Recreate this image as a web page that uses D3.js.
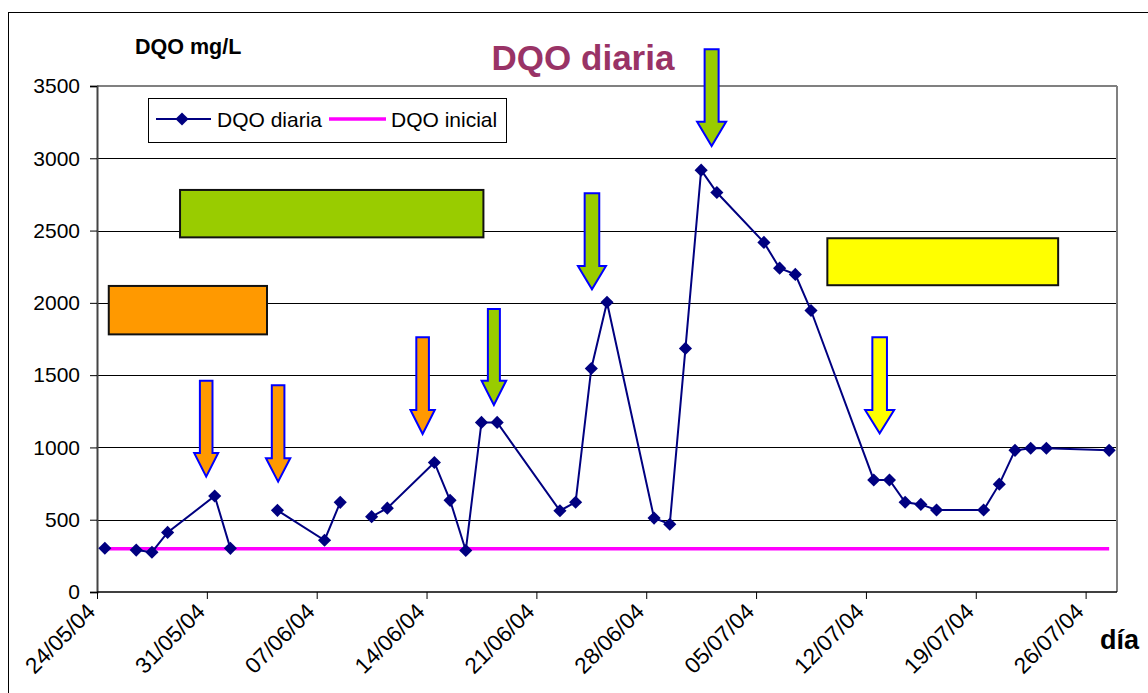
<!DOCTYPE html>
<html>
<head>
<meta charset="utf-8">
<script src="https://cdn.jsdelivr.net/npm/d3@7"></script>
<style>
  html, body { margin: 0; padding: 0; background: #fff; }
  svg { display: block; font-family: "Liberation Sans", Arial, sans-serif; }
</style>
</head>
<body>
<svg id="chart" width="1148" height="693"></svg>
<script>
// Daily COD sampling dates (dd/mm/yy); null = sample missing, line is broken there
const fechas = [
  "24/05/04", "25/05/04", "26/05/04", "27/05/04", "28/05/04", "31/05/04",
  "01/06/04", "02/06/04", "04/06/04", "07/06/04", "08/06/04", "09/06/04",
  "10/06/04", "11/06/04", "14/06/04", "15/06/04", "16/06/04", "17/06/04",
  "18/06/04", "22/06/04", "23/06/04", "24/06/04", "25/06/04", "28/06/04",
  "29/06/04", "30/06/04", "01/07/04", "02/07/04", "05/07/04", "06/07/04",
  "07/07/04", "08/07/04", "12/07/04", "13/07/04", "14/07/04", "15/07/04",
  "16/07/04", "19/07/04", "20/07/04", "21/07/04", "22/07/04", "23/07/04",
  "27/07/04"
];
const dqoDiaria = [
  303, null, 290, 275, 412, 664,
  302, null, 565, 358, 620, null,
  521, 580, 896, 634, 287, 1173,
  1173, 562, 621, 1546, 2004, 511,
  469, 1685, 2918, 2763, 2418, 2240,
  2197, 1947, 775, 775, 621, 606,
  567, 567, 746, 980, 994, 994,
  980
];
// Initial COD reference level (mg/L)
const dqoInicial = 300;

// Axis definitions
const yTicks = [0, 500, 1000, 1500, 2000, 2500, 3000, 3500];
const xStart = "24/05/04";
const xEnd = "28/07/04";
const xTickLabels = ["24/05/04", "31/05/04", "07/06/04", "14/06/04", "21/06/04",
                     "28/06/04", "05/07/04", "12/07/04", "19/07/04", "26/07/04"];

const parse = d3.utcParse("%d/%m/%y");
const data = fechas.map((f, i) => ({ date: parse(f), value: dqoDiaria[i] }));

const svg = d3.select("#chart");
const plot = { left: 97, right: 1117, top: 86, bottom: 592 };

const x = d3.scaleUtc()
  .domain([parse(xStart), parse(xEnd)])
  .range([plot.left, plot.right]);
const y = d3.scaleLinear()
  .domain([0, 3500])
  .range([plot.bottom, plot.top]);

// Points sit in the middle of their day
const xc = d => x(d3.utcHour.offset(d, 12));
// fractional day from start -> pixel
const xDay = n => x(d3.utcHour.offset(parse(xStart), n * 24));

// Outer chart frame
svg.append("rect")
  .attr("x", 8.5).attr("y", 12.5)
  .attr("width", 1300).attr("height", 900)
  .attr("fill", "#fff").attr("stroke", "#000").attr("stroke-width", 1);

// Horizontal gridlines
svg.append("g")
  .selectAll("line")
  .data(yTicks.filter(t => t > 0 && t < 3500))
  .join("line")
  .attr("x1", plot.left).attr("x2", plot.right)
  .attr("y1", d => Math.round(y(d)) + 0.5).attr("y2", d => Math.round(y(d)) + 0.5)
  .attr("stroke", "#000").attr("stroke-width", 1);

// Plot border (top / right in gray)
svg.append("line")
  .attr("x1", plot.left).attr("x2", plot.right)
  .attr("y1", plot.top).attr("y2", plot.top)
  .attr("stroke", "#808080").attr("stroke-width", 2);
svg.append("line")
  .attr("x1", plot.right).attr("x2", plot.right)
  .attr("y1", plot.top).attr("y2", plot.bottom)
  .attr("stroke", "#808080").attr("stroke-width", 2);

// Y axis
const yAxis = d3.axisLeft(y).tickValues(yTicks).tickSize(7).tickPadding(10)
  .tickFormat(d3.format("d"));
const gy = svg.append("g").attr("transform", `translate(${plot.left},0)`).call(yAxis);
gy.select(".domain").attr("stroke", "#444").attr("stroke-width", 2);
gy.selectAll(".tick line").attr("stroke", "#000");
gy.selectAll(".tick text")
  .attr("font-size", 21).attr("fill", "#000")
  .attr("font-family", "Liberation Sans, Arial, sans-serif");

// X axis
const xAxis = d3.axisBottom(x)
  .tickValues(xTickLabels.map(parse))
  .tickSize(7)
  .tickFormat(d3.utcFormat("%d/%m/%y"));
const gx = svg.append("g").attr("transform", `translate(0,${plot.bottom})`).call(xAxis);
gx.select(".domain").attr("stroke", "#000").attr("stroke-width", 1.5)
  .attr("d", `M${plot.left},0H${plot.right}`);
gx.selectAll(".tick line").attr("stroke", "#000");
gx.selectAll(".tick text")
  .attr("font-size", 22.5).attr("fill", "#000")
  .attr("font-family", "Liberation Sans, Arial, sans-serif")
  .attr("text-anchor", "end")
  .attr("x", 0).attr("y", 0).attr("dy", "0")
  .attr("transform", "translate(-1,21) rotate(-45)");

// Initial COD line
svg.append("line")
  .attr("x1", xc(data[0].date)).attr("x2", xc(data[data.length - 1].date))
  .attr("y1", y(dqoInicial)).attr("y2", y(dqoInicial))
  .attr("stroke", "#FF00FF").attr("stroke-width", 3.5);

// Daily COD line with gaps
const line = d3.line()
  .defined(d => d.value !== null)
  .x(d => xc(d.date))
  .y(d => y(d.value));
svg.append("path")
  .datum(data)
  .attr("d", line)
  .attr("fill", "none")
  .attr("stroke", "#000080")
  .attr("stroke-width", 2);

const diamond = d3.symbol().type(d3.symbolDiamond2).size(110);
svg.append("g")
  .selectAll("path")
  .data(data.filter(d => d.value !== null))
  .join("path")
  .attr("d", diamond)
  .attr("transform", d => `translate(${xc(d.date)},${y(d.value)})`)
  .attr("fill", "#000080");

// Treatment phase boxes (day range, value range)
const fases = [
  { d0: 0.76, d1: 10.84, v0: 1782, v1: 2117, color: "#FF9900" },
  { d0: 5.33, d1: 24.63, v0: 2453, v1: 2781, color: "#99CC00" },
  { d0: 46.58, d1: 61.25, v0: 2122, v1: 2447, color: "#FFFF00" }
];
svg.append("g")
  .selectAll("rect")
  .data(fases)
  .join("rect")
  .attr("x", d => xDay(d.d0)).attr("y", d => y(d.v1))
  .attr("width", d => xDay(d.d1) - xDay(d.d0))
  .attr("height", d => y(d.v0) - y(d.v1))
  .attr("fill", d => d.color)
  .attr("stroke", "#111").attr("stroke-width", 2);

// Down arrows marking events
const flechas = [
  { day: 6.99, top: 1462, head: 961, tip: 798, sw: 12.6, hw: 24, color: "#FF9900" },
  { day: 11.58, top: 1430, head: 925, tip: 763, sw: 12.6, hw: 24.3, color: "#FF9900" },
  { day: 20.75, top: 1762, head: 1259, tip: 1093, sw: 12.6, hw: 24.3, color: "#FF9900" },
  { day: 25.33, top: 1958, head: 1462, tip: 1294, sw: 12, hw: 24.6, color: "#99CC00" },
  { day: 31.57, top: 2758, head: 2255, tip: 2094, sw: 14.6, hw: 28, color: "#99CC00" },
  { day: 39.2, top: 3754, head: 3253, tip: 3085, sw: 14, hw: 29, color: "#99CC00" },
  { day: 49.89, top: 1762, head: 1259, tip: 1098, sw: 14.6, hw: 29, color: "#FFFF00" }
];
svg.append("g")
  .selectAll("path")
  .data(flechas)
  .join("path")
  .attr("d", a => {
    const cx = xDay(a.day), t = y(a.top), h = y(a.head), p = y(a.tip);
    const s = a.sw / 2, w = a.hw / 2;
    return `M${cx - s},${t}H${cx + s}V${h}H${cx + w}L${cx},${p}L${cx - w},${h}H${cx - s}Z`;
  })
  .attr("fill", a => a.color)
  .attr("stroke", "#0000FF").attr("stroke-width", 2)
  .attr("stroke-linejoin", "miter");

// Legend
const lg = svg.append("g");
lg.append("rect")
  .attr("x", 148.5).attr("y", 98.5).attr("width", 358).attr("height", 44)
  .attr("fill", "#fff").attr("stroke", "#000").attr("stroke-width", 1);
lg.append("line").attr("x1", 156).attr("x2", 211).attr("y1", 119).attr("y2", 119)
  .attr("stroke", "#000080").attr("stroke-width", 2);
lg.append("path").attr("d", diamond)
  .attr("transform", "translate(182,119)").attr("fill", "#000080");
lg.append("text").attr("x", 217).attr("y", 126.5).attr("font-size", 21)
  .text("DQO diaria");
lg.append("line").attr("x1", 329).attr("x2", 386).attr("y1", 119).attr("y2", 119)
  .attr("stroke", "#FF00FF").attr("stroke-width", 3.5);
lg.append("text").attr("x", 391).attr("y", 126.5).attr("font-size", 21)
  .text("DQO inicial");

// Titles
svg.append("text")
  .attr("x", 583).attr("y", 70)
  .attr("text-anchor", "middle")
  .attr("font-size", 35).attr("font-weight", "bold")
  .attr("fill", "#993366")
  .text("DQO diaria");
svg.append("text")
  .attr("x", 135).attr("y", 54)
  .attr("font-size", 21.5).attr("font-weight", "bold")
  .text("DQO mg/L");
svg.append("text")
  .attr("x", 1100).attr("y", 649)
  .attr("font-size", 27).attr("font-weight", "bold")
  .text("día");
</script>
</body>
</html>
